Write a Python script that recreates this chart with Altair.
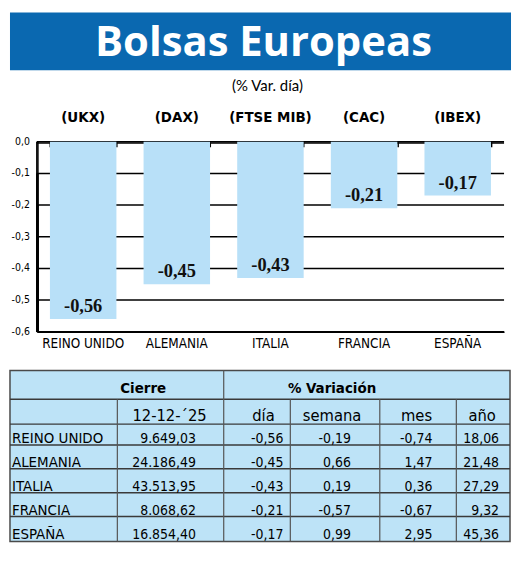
import altair as alt
import pandas as pd

# ---------------- data ----------------
title_text = "Bolsas Europeas"
subtitle_text = "(% Var. día)"
countries = ["REINO UNIDO", "ALEMANIA", "ITALIA", "FRANCIA", "ESPAÑA"]
indices = ["(UKX)", "(DAX)", "(FTSE MIB)", "(CAC)", "(IBEX)"]
var_dia = [-0.56, -0.45, -0.43, -0.21, -0.17]
cierre = [9649.03, 24186.49, 43513.95, 8068.62, 16854.40]
var_semana = [-0.19, 0.66, 0.19, -0.57, 0.99]
var_mes = [-0.74, 1.47, 0.36, -0.67, 2.95]
var_anio = [18.06, 21.48, 27.29, 9.32, 45.36]
y_ticks = [0.0, -0.1, -0.2, -0.3, -0.4, -0.5, -0.6]
group_headers = ["Cierre", "% Variación"]
col_headers = ["12-12-´25", "día", "semana", "mes", "año"]

# ---------------- styles / layout ----------------
NARROW = "DejaVu Sans Condensed, DejaVu Sans, sans-serif"
SANS = "Lato, Open Sans, sans-serif"
TITLE_FONT = "Open Sans, Lato, sans-serif"
SERIF = "Liberation Serif, DejaVu Serif, serif"
BLUE = "#0a68b0"
BAR = "#b8e0f8"
TABLE_BG = "#bde3f7"
LINE = "#3a3a3a"

PLOT_W, PLOT_H = 470, 191
LEFT = -27          # left edge of banner / table, relative to the bar plot
BANNER_R = 477
TABLE_R = 476       # right edge of the table, relative to the bar plot
TABLE_H = 173


def es(v, d=2):
    s = f"{v:,.{d}f}"
    return s.replace(",", "_").replace(".", ",").replace("_", ".")


# ---------------- bar chart ----------------
bars_df = pd.DataFrame({
    "country": countries,
    "index": indices,
    "value": var_dia,
    "label": [es(v) for v in var_dia],
})
tick_labels = [es(t, 1).replace("-0,0", "0,0") for t in y_ticks]
ticks_df = pd.DataFrame({"tick": y_ticks, "tlabel": tick_labels})

x_scale = alt.Scale(domain=countries, paddingInner=0.29, paddingOuter=0.14)
y_scale = alt.Scale(domain=[-0.6, 0], nice=False)

base_ticks = alt.Chart(ticks_df)

# gridlines (including the zero line)
grid = base_ticks.mark_rule(color="black", strokeWidth=1.5).encode(
    y=alt.Y("tick:Q", scale=y_scale, axis=None),
    x=alt.value(0), x2=alt.value(PLOT_W),
)
# extra strokes to thicken the zero line
zero_thick = base_ticks.transform_filter(alt.datum.tick == 0).mark_rule(
    color="black", strokeWidth=1.5, yOffset=1.2
).encode(
    y=alt.Y("tick:Q", scale=y_scale, axis=None),
    x=alt.value(0), x2=alt.value(PLOT_W),
)
# left axis line, built from segments tick -> bottom
left_line = base_ticks.mark_rule(color="black", strokeWidth=1.5).encode(
    x=alt.value(0),
    y=alt.Y("tick:Q", scale=y_scale, axis=None),
    y2=alt.value(PLOT_H),
)
left_line2 = base_ticks.mark_rule(color="black", strokeWidth=1.5, xOffset=1.1).encode(
    x=alt.value(0),
    y=alt.Y("tick:Q", scale=y_scale, axis=None),
    y2=alt.value(PLOT_H),
)
y_labels = base_ticks.mark_text(
    font=NARROW, fontSize=10.5, color="black", align="right", baseline="middle", dx=-7,
).encode(
    x=alt.value(0),
    y=alt.Y("tick:Q", scale=y_scale, axis=None),
    text="tlabel:N",
)

bars = alt.Chart(bars_df).mark_bar(color=BAR).encode(
    x=alt.X("country:N", sort=None, scale=x_scale,
            axis=alt.Axis(title=None, orient="bottom", ticks=False, labelAngle=0,
                          domainColor="black", domainWidth=1.5,
                          labelFont=NARROW, labelFontSize=13.5, labelColor="black",
                          labelPadding=5, grid=False)),
    y=alt.Y("value:Q", scale=y_scale, axis=None),
)

value_labels = alt.Chart(bars_df).mark_text(
    font=SERIF, fontSize=18.5, fontWeight="bold", color="#111111",
    baseline="alphabetic", dy=-7,
).encode(
    x=alt.X("country:N", sort=None, scale=x_scale, axis=None),
    y=alt.Y("value:Q", scale=y_scale, axis=None),
    text="label:N",
)

index_labels = alt.Chart(bars_df).mark_text(
    font=NARROW, fontSize=15, fontWeight="bold", color="black", baseline="middle",
).encode(
    x=alt.X("country:N", sort=None, scale=x_scale,
            axis=alt.Axis(orient="top", title=None, labels=False, domain=False, grid=False,
                          ticks=True, tickBand="extent", tickSize=5, tickWidth=1.5,
                          tickColor="black", offset=-5)),
    y=alt.value(-25),
    text="index:N",
)

head_df = pd.DataFrame({"title": [title_text], "subtitle": [subtitle_text]})

banner = alt.Chart(head_df).mark_rect(color=BLUE).encode(
    x=alt.value(LEFT), x2=alt.value(BANNER_R), y=alt.value(-130), y2=alt.value(-72),
)
title = alt.Chart(head_df).mark_text(
    font=TITLE_FONT, fontSize=42, fontWeight="bold", color="white", baseline="alphabetic",
).encode(x=alt.value(228), y=alt.value(-86), text="title:N")
subtitle = alt.Chart(head_df).mark_text(
    font=SANS, fontSize=15, color="black", baseline="middle",
).encode(x=alt.value(232), y=alt.value(-56), text="subtitle:N")

bar_chart = alt.layer(
    banner, title, subtitle, grid, zero_thick, bars, left_line, left_line2, y_labels,
    value_labels, index_labels
).resolve_axis(x="independent").properties(width=PLOT_W, height=PLOT_H)

# ---------------- table ----------------
# row index: 0 = top border, 1 = group header, 2 = column header, 3..7 = data rows
row_scale = alt.Scale(domain=[0, 1, 2, 3, 4, 5, 6, 7],
                      range=[0, 29, 54, 75, 99, 123, 147, 172], type="linear")

values_cols = [[es(v) for v in cierre], [es(v) for v in var_dia], [es(v) for v in var_semana],
               [es(v) for v in var_mes], [es(v) for v in var_anio]]
cells = []
for ci, col in enumerate(values_cols):
    for ri, txt in enumerate(col):
        cells.append({"col": ci, "row": ri + 3, "text": txt})
cells_df = pd.DataFrame(cells)
names_df = pd.DataFrame({"row": [i + 3 for i in range(len(countries))], "name": countries,
                         "col": [0] * len(countries)})
h2_df = pd.DataFrame({"col": list(range(len(col_headers))), "row": [2] * len(col_headers),
                      "text": col_headers})
h1_df = pd.DataFrame({"col": [0, 1], "row": [1, 1], "text": group_headers})
hlines_df = pd.DataFrame({"row": [1, 2, 3, 4, 5, 6]})
vlines_df = pd.DataFrame({"b": [0, 1, 2, 3, 4], "top": [1, 0, 1, 1, 1], "bottom": [7] * 5})
box_df = pd.DataFrame({"top": [0], "bottom": [7]})


def Y(f):
    return alt.Y(f"{f}:Q", scale=row_scale, axis=None)


box = alt.Chart(box_df).mark_rect(fill=TABLE_BG, stroke="#4a4a4a", strokeWidth=1.5).encode(
    x=alt.value(LEFT), x2=alt.value(TABLE_R), y=Y("top"), y2="bottom:Q",
)
hlines = alt.Chart(hlines_df).mark_rule(color=LINE, strokeWidth=1.5).encode(
    y=Y("row"), x=alt.value(LEFT), x2=alt.value(TABLE_R),
)
vlines = alt.Chart(vlines_df).mark_rule(color="#555555", strokeWidth=1.2).encode(
    x=alt.X("b:Q", axis=None,
            scale=alt.Scale(domain=[0, 1, 2, 3, 4], range=[81, 188, 255, 345, 422])),
    y=Y("top"), y2="bottom:Q",
)
names = alt.Chart(names_df).mark_text(
    font=NARROW, fontSize=15, color="black", align="left", baseline="alphabetic", dy=-2,
).encode(
    x=alt.X("col:Q", axis=None, scale=alt.Scale(domain=[0, 1], range=[-25, -24])),
    y=Y("row"), text="name:N",
)
values = alt.Chart(cells_df).mark_text(
    font=NARROW, fontSize=14, color="black", align="right", baseline="alphabetic", dy=-2,
).encode(
    x=alt.X("col:Q", axis=None,
            scale=alt.Scale(domain=[0, 1, 2, 3, 4], range=[160, 248, 316, 398, 465])),
    y=Y("row"), text="text:N",
)
h2 = alt.Chart(h2_df).mark_text(
    font=NARROW, fontSize=16.5, color="black", align="center", baseline="alphabetic", dy=-3,
).encode(
    x=alt.X("col:Q", axis=None,
            scale=alt.Scale(domain=[0, 1, 2, 3, 4], range=[133.5, 228, 297, 382, 448])),
    y=Y("row"), text="text:N",
)
h1 = alt.Chart(h1_df).mark_text(
    font=NARROW, fontSize=15, fontWeight="bold", color="black", align="center",
    baseline="alphabetic", dy=-6,
).encode(
    x=alt.X("col:Q", axis=None, scale=alt.Scale(domain=[0, 1], range=[107, 297])),
    y=Y("row"), text="text:N",
)

table = alt.layer(box, hlines, vlines, names, values, h2, h1).resolve_scale(
    x="independent"
).properties(width=TABLE_R, height=TABLE_H)

chart = alt.vconcat(bar_chart, table, spacing=18).properties(
    padding={"left": 0, "top": 2, "right": 0, "bottom": 0},
    background="white",
).configure_view(stroke="transparent")

chart.save("out.html", embed_options={"renderer": "svg", "actions": False})
